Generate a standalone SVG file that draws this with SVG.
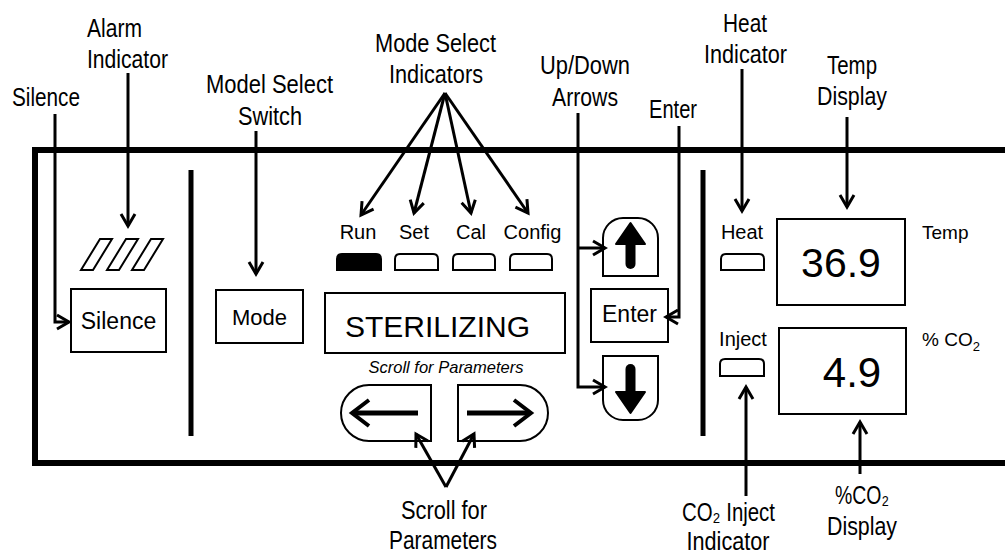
<svg xmlns="http://www.w3.org/2000/svg" width="1005" height="555" viewBox="0 0 1005 555">
<defs>
<marker id="ah" markerUnits="userSpaceOnUse" markerWidth="20" markerHeight="20" viewBox="-14 -10 16 20" refX="0" refY="0" orient="auto">
<path d="M-12,-7 L0,0 L-12,7" fill="none" stroke="#000" stroke-width="3"/>
</marker>
</defs>
<style>
.lbl{font-family:"Liberation Sans",Arial,sans-serif;font-size:26px;fill:#000;text-anchor:middle}
.t{font-family:"Liberation Sans",Arial,sans-serif;fill:#000}
.box{fill:#fff;stroke:#000;stroke-width:2}
.pill{fill:#fff;stroke:#000;stroke-width:2}
.conn{fill:none;stroke:#000;stroke-width:3;marker-end:url(#ah)}
.panel{fill:none;stroke:#000;stroke-width:6}
.div{stroke:#000;stroke-width:5}
</style>
<rect width="1005" height="555" fill="#fff"/>

<g id="panel">
<path class="panel" d="M1008,150 L35,150 L35,463 L1008,463"/>
<line class="div" x1="191" y1="170" x2="191" y2="436"/>
<line class="div" x1="703" y1="170" x2="703" y2="436"/>
</g>

<g id="labels">
<text class="lbl" x="46" y="106" textLength="68" lengthAdjust="spacingAndGlyphs">Silence</text>
<text class="lbl" x="87" y="37" style="text-anchor:start" textLength="55" lengthAdjust="spacingAndGlyphs">Alarm</text>
<text class="lbl" x="87" y="68" style="text-anchor:start" textLength="81" lengthAdjust="spacingAndGlyphs">Indicator</text>
<text class="lbl" x="269.5" y="93" textLength="127" lengthAdjust="spacingAndGlyphs">Model Select</text>
<text class="lbl" x="270" y="125" textLength="64" lengthAdjust="spacingAndGlyphs">Switch</text>
<text class="lbl" x="435.5" y="52" textLength="121" lengthAdjust="spacingAndGlyphs">Mode Select</text>
<text class="lbl" x="436" y="83" textLength="94" lengthAdjust="spacingAndGlyphs">Indicators</text>
<text class="lbl" x="585" y="74" textLength="90" lengthAdjust="spacingAndGlyphs">Up/Down</text>
<text class="lbl" x="585" y="106" textLength="66" lengthAdjust="spacingAndGlyphs">Arrows</text>
<text class="lbl" x="673" y="118" textLength="48" lengthAdjust="spacingAndGlyphs">Enter</text>
<text class="lbl" x="745" y="32" textLength="44" lengthAdjust="spacingAndGlyphs">Heat</text>
<text class="lbl" x="745.5" y="63" textLength="83" lengthAdjust="spacingAndGlyphs">Indicator</text>
<text class="lbl" x="852" y="74" textLength="50" lengthAdjust="spacingAndGlyphs">Temp</text>
<text class="lbl" x="852" y="105" textLength="70" lengthAdjust="spacingAndGlyphs">Display</text>
<text class="lbl" x="444" y="519" textLength="86" lengthAdjust="spacingAndGlyphs">Scroll for</text>
<text class="lbl" x="443" y="549" textLength="108" lengthAdjust="spacingAndGlyphs">Parameters</text>
<text class="lbl" x="728.5" y="521" textLength="93" lengthAdjust="spacingAndGlyphs">CO₂ Inject</text>
<text class="lbl" x="728" y="550" font-size="24" textLength="83" lengthAdjust="spacingAndGlyphs">Indicator</text>
<text class="lbl" x="862" y="504" textLength="54" lengthAdjust="spacingAndGlyphs">%CO₂</text>
<text class="lbl" x="862" y="535" textLength="70" lengthAdjust="spacingAndGlyphs">Display</text>
</g>

<g id="alarm">
<path class="box" d="M81,270 L93,270 L112,239 L100,239 Z"/>
<path class="box" d="M107,270 L119,270 L138,239 L126,239 Z"/>
<path class="box" d="M132,270 L144,270 L163,239 L151,239 Z"/>
</g>

<g id="silence">
<rect class="box" x="71" y="289" width="95" height="63"/>
<text class="t" x="118.5" y="329" font-size="23" text-anchor="middle">Silence</text>
</g>

<g id="mode">
<rect class="box" x="216" y="290" width="87" height="53"/>
<text class="t" x="259.5" y="325" font-size="22" text-anchor="middle">Mode</text>
</g>

<g id="mode-indicators">
<text class="t" x="358" y="239" font-size="20" text-anchor="middle">Run</text>
<text class="t" x="414" y="239" font-size="20" text-anchor="middle">Set</text>
<text class="t" x="471" y="239" font-size="20" text-anchor="middle">Cal</text>
<text class="t" x="532.5" y="239" font-size="20" text-anchor="middle">Config</text>
<path fill="#000" stroke="#000" stroke-width="2" d="M337,270 L337,259 Q337,254 342,254 L376,254 Q381,254 381,259 L381,270 Z"/>
<path class="pill" d="M395,270 L395,259 Q395,254 400,254 L433,254 Q438,254 438,259 L438,270 Z"/>
<path class="pill" d="M453,270 L453,259 Q453,254 458,254 L490,254 Q495,254 495,259 L495,270 Z"/>
<path class="pill" d="M510,270 L510,259 Q510,254 515,254 L547,254 Q552,254 552,259 L552,270 Z"/>
</g>

<g id="display">
<rect class="box" x="325" y="293" width="240" height="60"/>
<text class="t" x="437.5" y="337" font-size="30" text-anchor="middle">STERILIZING</text>
<text class="t" x="446" y="373" font-size="16.5" font-style="italic" text-anchor="middle">Scroll for Parameters</text>
</g>

<g id="scroll-left">
<path class="box" d="M431,385 L431,441 L369,441 A28,28 0 0 1 369,385 Z"/>
<line x1="418" y1="413" x2="354" y2="413" stroke="#000" stroke-width="5"/>
<path d="M369,400 L352,413 L369,426" fill="none" stroke="#000" stroke-width="4"/>
</g>

<g id="scroll-right">
<path class="box" d="M458,385 L520,385 A28,28 0 0 1 520,441 L458,441 Z"/>
<line x1="467" y1="413" x2="529" y2="413" stroke="#000" stroke-width="5"/>
<path d="M514,400 L531,413 L514,426" fill="none" stroke="#000" stroke-width="4"/>
</g>

<g id="up">
<path class="box" d="M603,276 L603,238 A20,20 0 0 1 623,218 L638,218 A20,20 0 0 1 658,238 L658,276 Z"/>
<line x1="630.5" y1="242" x2="630.5" y2="264" stroke="#000" stroke-width="10" stroke-linecap="round"/>
<path d="M630.5,223 L645,244 L616,244 Z" fill="#000" stroke="#000" stroke-width="2" stroke-linejoin="round"/>
</g>

<g id="enter">
<rect class="box" x="591" y="289" width="77" height="53"/>
<text class="t" x="629.5" y="322" font-size="23" text-anchor="middle">Enter</text>
</g>

<g id="down">
<path class="box" d="M603,356 L658,356 L658,400 A20,20 0 0 1 638,420 L623,420 A20,20 0 0 1 603,400 Z"/>
<line x1="630.5" y1="369" x2="630.5" y2="394" stroke="#000" stroke-width="10" stroke-linecap="round"/>
<path d="M630.5,413 L645,392 L616,392 Z" fill="#000" stroke="#000" stroke-width="2" stroke-linejoin="round"/>
</g>

<g id="heat">
<text class="t" x="742" y="239" font-size="20" text-anchor="middle">Heat</text>
<path class="pill" d="M721,270 L721,259 Q721,254 726,254 L759,254 Q764,254 764,259 L764,270 Z"/>
</g>

<g id="temp">
<rect class="box" x="777" y="219" width="128" height="86"/>
<text class="t" x="841" y="277" font-size="41" text-anchor="middle">36.9</text>
<text class="t" x="922" y="239" font-size="19">Temp</text>
</g>

<g id="inject">
<text class="t" x="743" y="346" font-size="20" text-anchor="middle">Inject</text>
<path class="pill" d="M720,376 L720,364 Q720,359 725,359 L759,359 Q764,359 764,364 L764,376 Z"/>
</g>

<g id="co2">
<rect class="box" x="779" y="328" width="127" height="86"/>
<text class="t" x="852" y="387" font-size="42" text-anchor="middle">4.9</text>
<text class="t" x="922" y="346" font-size="19">% CO<tspan font-size="13" dy="5">2</tspan></text>
</g>

<g id="connectors">
<path class="conn" d="M55,114 L55,322 L69,322"/>
<path class="conn" d="M128,73 L128,226"/>
<path class="conn" d="M256,131 L256,274"/>
<path class="conn" d="M445,93 L361,215"/>
<path class="conn" d="M445,93 L414,213"/>
<path class="conn" d="M445,93 L471,213"/>
<path class="conn" d="M445,93 L528,213"/>
<path class="conn" d="M578,113 L578,387 L605,387"/>
<path class="conn" d="M578,248 L605,248"/>
<path class="conn" d="M679,126 L679,317 L666,317"/>
<path class="conn" d="M742,69 L742,211"/>
<path class="conn" d="M847,117 L847,207"/>
<path class="conn" d="M446,487 L416,434"/>
<path class="conn" d="M446,487 L474,434"/>
<path class="conn" d="M746,496 L746,387"/>
<path class="conn" d="M860,474 L860,422"/>
</g>
</svg>
